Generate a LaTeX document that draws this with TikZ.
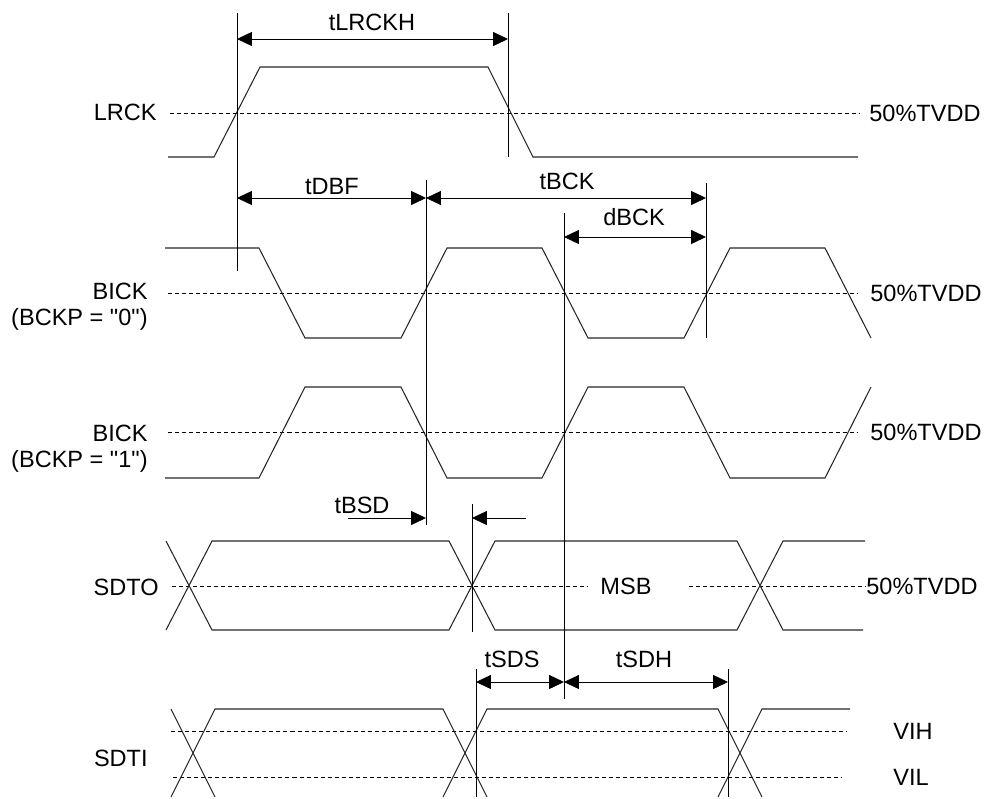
\documentclass[tikz,border=0pt]{standalone}
\usepackage{fontspec}
\setmainfont{Liberation Sans}[Ligatures=TeXOff]
\usetikzlibrary{positioning, arrows.meta}
\tikzstyle{wave} = [line width=0.6pt, black!85]
\tikzstyle{level} = [line width=0.45pt, dash pattern=on 2.3pt off 1.7pt]
\tikzstyle{marker} = [line width=0.5pt]
\tikzstyle{dim} = [line width=0.5pt, <->, >={Triangle[length=8.5pt,width=8pt]}]
\tikzstyle{arrow} = [line width=0.5pt, ->, >={Triangle[length=8.5pt,width=8pt]}]
\tikzstyle{sig} = [anchor=east, align=right]
\tikzstyle{vref} = [anchor=west]
\tikzstyle{tlabel} = [text centered]

\begin{document}
\begin{tikzpicture}[x=0.02cm, y=-0.02cm, every node/.style={inner sep=0pt, font=\fontsize{13.4}{14.8}\selectfont}]
\useasboundingbox (0,0) rectangle (987,798);
% signal names
\node (lrck_lbl) [sig] at (157,112) {LRCK};
\node (bick0_lbl) [sig] at (148,307) {BICK\\(BCKP = "0")};
\node (bick1_lbl) [sig] at (148,449) {BICK\\(BCKP = "1")};
\node (sdto_lbl) [sig] at (159,587) {SDTO};
\node (sdti_lbl) [sig] at (148,758) {SDTI};
% reference levels
\node (lrck_ref) [vref] at (869,113) {50\%TVDD};
\node (bick0_ref) [vref] at (870,293) {50\%TVDD};
\node (bick1_ref) [vref] at (870,432) {50\%TVDD};
\node (sdto_ref) [vref] at (866,586) {50\%TVDD};
\node (vih_lbl) [vref] at (893,731) {VIH};
\node (vil_lbl) [vref] at (893,777) {VIL};
\node (msb_lbl) [tlabel] at (626,586) {MSB};
\draw [level] (170,113) -- (860,113);
\draw [level] (168,293) -- (858,293);
\draw [level] (168,432) -- (858,432);
\draw [level] (172,586) -- (587,586);
\draw [level] (689,586) -- (sdto_ref.west);
\draw [level] (171,731) -- (847,731);
\draw [level] (173,777) -- (842,777);
% waveforms
\draw [wave] (168,157) -- (214,157) -- (260,67) -- (488,67) -- (533,157) -- (858,157);
\draw [wave] (165,248) -- (259,248) -- (305,338) -- (401,338) -- (447,248) -- (542,248) -- (588,338) -- (684,338) -- (730,248) -- (825,248) -- (871,338);
\draw [wave] (165,478) -- (259,478) -- (305,387) -- (401,387) -- (447,478) -- (542,478) -- (588,387) -- (684,387) -- (730,478) -- (825,478) -- (871,387);
\draw [wave] (166,541) -- (212,630) -- (449,630) -- (495,541) -- (737,541) -- (783,630) -- (863,630);
\draw [wave] (166,630) -- (212,541) -- (449,541) -- (495,630) -- (737,630) -- (783,541) -- (865,541);
\draw [wave] (171,709) -- (215,797);
\draw [wave] (171,797) -- (215,709) -- (443,709) -- (487,797);
\draw [wave] (443,797) -- (487,709) -- (718,709) -- (762,797);
\draw [wave] (718,797) -- (762,709) -- (850,709);
% timing markers
\coordinate (m_lrck_rise_t) at (237,13);
\coordinate (m_lrck_rise_b) at (237,271);
\coordinate (m_lrck_fall_t) at (508,13);
\coordinate (m_lrck_fall_b) at (508,157);
\coordinate (m_bick_a_t) at (426,180);
\coordinate (m_bick_a_b) at (426,525);
\coordinate (m_bick_c_t) at (706,183);
\coordinate (m_bick_c_b) at (706,338);
\coordinate (m_bick_b_t) at (564,213);
\coordinate (m_bick_b_b) at (564,699);
\coordinate (m_sdto_t) at (472,504);
\coordinate (m_sdto_b) at (472,632);
\coordinate (m_sdti_r_t) at (476,669);
\coordinate (m_sdti_r_b) at (476,797);
\coordinate (m_sdti_f_t) at (728,669);
\coordinate (m_sdti_f_b) at (728,797);
\draw [marker] (m_lrck_rise_t) -- (m_lrck_rise_b);
\draw [marker] (m_lrck_fall_t) -- (m_lrck_fall_b);
\draw [marker] (m_bick_a_t) -- (m_bick_a_b);
\draw [marker] (m_bick_c_t) -- (m_bick_c_b);
\draw [marker] (m_bick_b_t) -- (m_bick_b_b);
\draw [marker] (m_sdto_t) -- (m_sdto_b);
\draw [marker] (m_sdti_r_t) -- (m_sdti_r_b);
\draw [marker] (m_sdti_f_t) -- (m_sdti_f_b);
% dimensions
\coordinate (lrckh_a) at (237,39);
\coordinate (lrckh_b) at (508,39);
\coordinate (dbf_a) at (237,198);
\coordinate (dbf_b) at (426,198);
\coordinate (bck_b) at (706,198);
\coordinate (dbck_a) at (564,237);
\coordinate (dbck_b) at (706,237);
\coordinate (bsd_l) at (348,518);
\coordinate (bsd_a) at (426,518);
\coordinate (bsd_r) at (526,518);
\coordinate (bsd_b) at (472,518);
\coordinate (sds_a) at (476,682);
\coordinate (sds_b) at (564,682);
\coordinate (sdh_b) at (728,682);
\draw [dim] (lrckh_a) -- (lrckh_b);
\draw [dim] (dbf_a) -- (dbf_b);
\draw [dim] (dbf_b) -- (bck_b);
\draw [dim] (dbck_a) -- (dbck_b);
\draw [arrow] (bsd_l) -- (bsd_a);
\draw [arrow] (bsd_r) -- (bsd_b);
\draw [dim] (sds_a) -- (sds_b);
\draw [dim] (sds_b) -- (sdh_b);
\node (lrckh_lbl) [tlabel] at (372,22.5) {tLRCKH};
\node (dbf_lbl) [tlabel] at (332,186.5) {tDBF};
\node (bck_lbl) [tlabel] at (567,181) {tBCK};
\node (dbck_lbl) [tlabel] at (634,217) {dBCK};
\node (bsd_lbl) [tlabel] at (362,505) {tBSD};
\node (sds_lbl) [tlabel] at (512,659) {tSDS};
\node (sdh_lbl) [tlabel] at (644,659) {tSDH};
\end{tikzpicture}
\end{document}
